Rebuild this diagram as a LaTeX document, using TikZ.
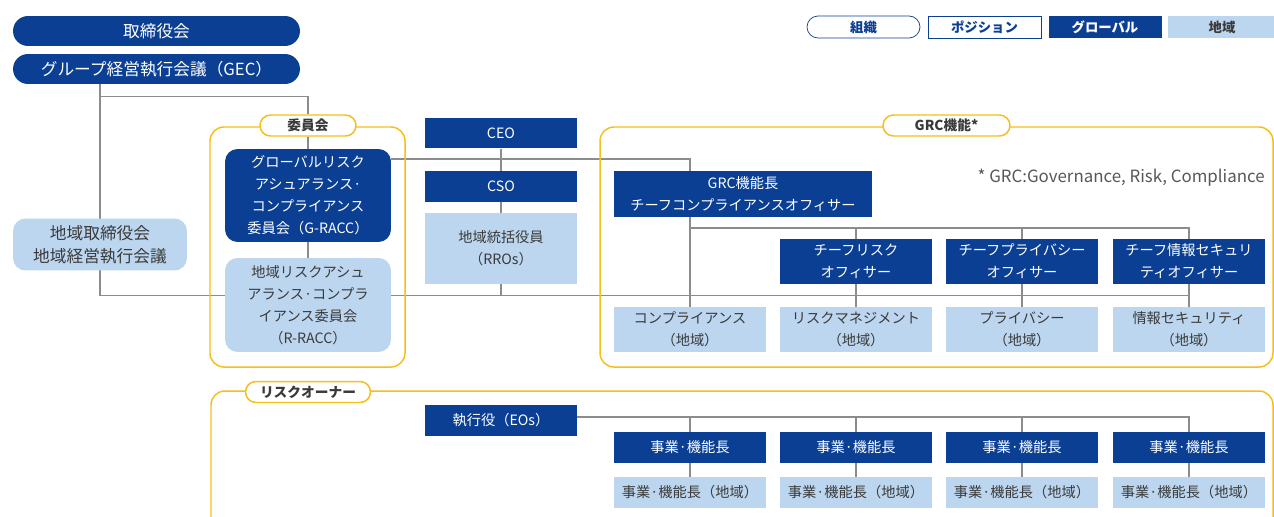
\documentclass[tikz,border=0pt]{standalone}
\usepackage{fontspec}
\setmainfont{Noto Sans CJK JP}
\usetikzlibrary{backgrounds}
\definecolor{navy}{HTML}{0B3F94}
\definecolor{pale}{HTML}{BCD6EF}
\definecolor{gold}{HTML}{F6BF19}
\definecolor{wire}{HTML}{8C8C8C}
\definecolor{ink}{HTML}{3A3A3A}

\begin{document}
\begin{tikzpicture}[x=0.02cm, y=-0.02cm]
    % box styles
    \tikzstyle{global}=[
      fill=navy,
      text=white,
      inner sep=0pt,
      align=center,
      font=\fontsize{8.1}{12.5}\selectfont
    ]
    \tikzstyle{local}=[global, fill=pale, text=ink]
    \tikzstyle{post}=[minimum width=3.04cm, minimum height=0.62cm]
    \tikzstyle{tall}=[minimum width=3.04cm, minimum height=0.9cm]
    \tikzstyle{tag}=[
      draw=gold,
      line width=0.85pt,
      fill=white,
      text=ink,
      rounded corners=0.21cm,
      minimum height=0.42cm,
      inner sep=0pt,
      font=\fontsize{7.8}{9}\selectfont\bfseries
    ]
    \tikzstyle{key}=[
      minimum width=2.26cm,
      minimum height=0.44cm,
      inner sep=0pt,
      font=\fontsize{7.6}{9}\selectfont\bfseries
    ]
    \tikzstyle{frame}=[draw=gold, line width=0.85pt, rounded corners=0.28cm]
    \tikzstyle{wire}=[draw=wire, line width=0.7pt]

    \useasboundingbox (0,0) rectangle (1274,517);

    % legend
    \node[key, draw=navy, text=navy, fill=white, rounded corners=0.22cm] (kOrg) at (863.5,27) {組織};
    \node[key, draw=navy, text=navy, fill=white] (kPos) at (984.5,27) {ポジション};
    \node[key, fill=navy, text=white] (kGlobal) at (1105,27) {グローバル};
    \node[key, fill=pale, text=ink, minimum width=2.16cm] (kLocal) at (1222,27) {地域};

    % group frames
    \draw[frame] (210,127) rectangle (405,367);
    \draw[frame] (600,127) rectangle (1273,367);
    \draw[frame] (211,517) -- (211,391) -- (1273,391) -- (1273,517);

    % board level
    \node[global, minimum width=5.74cm, minimum height=0.6cm, rounded corners=0.3cm,
      font=\fontsize{9.5}{12}\selectfont] (board) at (156.5,31) {取締役会};
    \node[global, minimum width=5.74cm, minimum height=0.6cm, rounded corners=0.3cm,
      font=\fontsize{9.5}{12}\selectfont] (gec) at (156.5,69) {グループ経営執行会議（GEC）};
    \node[local, minimum width=3.48cm, minimum height=1.04cm, rounded corners=0.25cm,
      font=\fontsize{9.5}{13}\selectfont] (regBoard) at (100,244.5) {地域取締役会\\地域経営執行会議};

    % committees
    \node[tag, minimum width=1.92cm] (comTag) at (308,125.5) {委員会};
    \node[global, minimum width=3.32cm, minimum height=1.86cm, rounded corners=0.25cm] (gRacc) at (308,195.5)
      {グローバルリスク\\アシュアランス·\\コンプライアンス\\委員会（G-RACC）};
    \node[local, minimum width=3.32cm, minimum height=1.88cm, rounded corners=0.25cm] (rRacc) at (308,305)
      {地域リスクアシュ\\アランス·コンプラ\\イアンス委員会\\（R-RACC）};

    % executive column
    \node[global, post] (ceo) at (501,133) {CEO};
    \node[global, post] (cso) at (501,186.5) {CSO};
    \node[local, post, minimum height=1.42cm] (rros) at (501,248.5) {地域統括役員\\（RROs）};

    % GRC functions
    \node[tag, minimum width=2.54cm] (grcTag) at (946.5,125.5) {GRC機能*};
    \node[anchor=east, inner sep=0pt, text=ink!85, font=\fontsize{9.6}{11}\selectfont] (note) at (1265,178)
      {* GRC:Governance, Risk, Compliance};
    \node[global, minimum width=5.16cm, minimum height=0.92cm] (cco) at (743,194)
      {GRC機能長\\チーフコンプライアンスオフィサー};
    \node[global, tall] (cro) at (856,261.5) {チーフリスク\\オフィサー};
    \node[global, tall] (cpo) at (1022,261.5) {チーフプライバシー\\オフィサー};
    \node[global, tall] (ciso) at (1189,261.5) {チーフ情報セキュリ\\ティオフィサー};
    \node[local, tall] (compliance) at (690,329.5) {コンプライアンス\\（地域）};
    \node[local, tall] (riskMgmt) at (856,329.5) {リスクマネジメント\\（地域）};
    \node[local, tall] (privacy) at (1022,329.5) {プライバシー\\（地域）};
    \node[local, tall] (infoSec) at (1189,329.5) {情報セキュリティ\\（地域）};

    % risk owners
    \node[tag, minimum width=2.5cm] (ownerTag) at (308,392) {リスクオーナー};
    \node[global, post] (eos) at (501,420.5) {執行役（EOs）};
    \foreach \i/\x in {1/690, 2/856, 3/1022, 4/1189} {
      \node[global, post] (bu\i) at (\x,447.5) {事業·機能長};
      \node[local, post] (buLocal\i) at (\x,492.5) {事業·機能長（地域）};
    }

    % bus lines
    \coordinate (gBus) at (0,159);
    \coordinate (cBus) at (0,228);
    \coordinate (rBus) at (0,295.5);

    \begin{scope}[on background layer]
      % GEC down to committees and regional boards
      \draw[wire] (gec.south -| regBoard) -- ++(0,12) -| (comTag.north);
      \draw[wire] (gec.south -| regBoard) |- (rRacc.west |- rBus);
      \draw[wire] (comTag.south) -- (gRacc.north);
      \draw[wire] (gRacc.south) -- (rRacc.north);

      % global line
      \draw[wire] (gRacc.east |- gBus) -| (cco.north -| compliance);
      \draw[wire] (ceo.south) -- (cso.north);
      \draw[wire] (cso.south) -- (rros.north);

      % under the GRC head
      \draw[wire] (cco.south -| compliance) -- (compliance.north);
      \draw[wire] (compliance.north |- cBus) -| (ciso.north);
      \draw[wire] (cro.north |- cBus) -- (cro.north);
      \draw[wire] (cpo.north |- cBus) -- (cpo.north);

      % regional line
      \draw[wire] (rRacc.east |- rBus) -| (infoSec.north);
      \draw[wire] (rros.south) -- (rros.south |- rBus);
      \draw[wire] (cro.south) -- (riskMgmt.north);
      \draw[wire] (cpo.south) -- (privacy.north);
      \draw[wire] (ciso.south) -- (infoSec.north);

      % executive officers
      \draw[wire] (eos.east |- 0,417) -| (bu4.north);
      \foreach \i in {1,2,3} {
        \draw[wire] (bu\i.north |- 0,417) -- (bu\i.north);
      }
      \foreach \i in {1,...,4} {
        \draw[wire] (bu\i.south) -- (buLocal\i.north);
      }
    \end{scope}
  \end{tikzpicture}
\end{document}
